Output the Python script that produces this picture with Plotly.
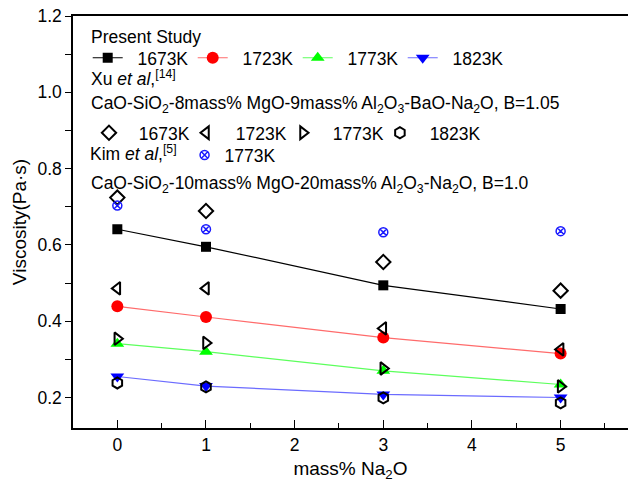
import plotly.graph_objects as go

x_na2o = [0, 1, 3, 5]

present_labels = ["1673K", "1723K", "1773K", "1823K"]
present_1673 = [0.641, 0.595, 0.494, 0.432]
present_1723 = [0.439, 0.411, 0.357, 0.315]
present_1773 = [0.341, 0.320, 0.270, 0.234]
present_1823 = [0.255, 0.230, 0.208, 0.200]

xu_1673 = [0.724, 0.689, 0.555, 0.480]
xu_1723 = [0.486, 0.486, 0.381, 0.326]
xu_1773 = [0.354, 0.343, 0.276, 0.229]
xu_1823 = [0.238, 0.228, 0.199, 0.186]

kim_1773 = [0.703, 0.641, 0.633, 0.636]

x_ticks = [0, 1, 2, 3, 4, 5]
y_ticks = [0.2, 0.4, 0.6, 0.8, 1.0, 1.2]

FONT = "Liberation Sans, Arial, sans-serif"
FS = 17.5
PAD = "\u00a0\u00a0"

fig = go.Figure()

present_series = [present_1673, present_1723, present_1773, present_1823]
present_marker_colors = ["#000000", "#ff0000", "#00ff00", "#0000ff"]
present_line_colors = ["#000000", "#ff6b6b", "#5cff5c", "#6b6bff"]
present_symbols = ["square", "circle", "triangle-up", "triangle-down"]
present_sizes = [10, 12, 12, 12]

for lab, ys, mc, lc, sym, sz in zip(present_labels, present_series, present_marker_colors,
                                    present_line_colors, present_symbols, present_sizes):
    fig.add_trace(go.Scatter(
        x=x_na2o, y=ys, mode="lines+markers", name=PAD + lab, legend="legend",
        line=dict(color=lc, width=1.2),
        marker=dict(symbol=sym, size=sz, color=mc, line=dict(width=0)),
    ))

xu_series = [xu_1673, xu_1723, xu_1773, xu_1823]
xu_symbols = ["diamond-open", "triangle-left-open", "triangle-right-open", "hexagon-open"]
xu_legends = ["legend2", "legend4", "legend5", "legend6"]
for lab, ys, sym, lg in zip(present_labels, xu_series, xu_symbols, xu_legends):
    fig.add_trace(go.Scatter(
        x=x_na2o, y=ys, mode="markers", name=PAD + lab, legend=lg,
        marker=dict(symbol=sym, size=11, color="#000000", line=dict(width=2, color="#000000")),
    ))

fig.add_trace(go.Scatter(
    x=x_na2o, y=kim_1773, mode="markers", name="1773K", legend="legend3",
    marker=dict(symbol="circle-x-open", size=9, color="#1a1aff", line=dict(width=1.5, color="#1a1aff")),
))

legend_common = dict(
    bgcolor="rgba(0,0,0,0)", borderwidth=0, orientation="h",
    font=dict(family=FONT, size=FS, color="#000000"),
    xanchor="left", yanchor="top",
    itemclick=False, itemdoubleclick=False,
)

def ann(text, x, y):
    return dict(text=text, xref="paper", yref="paper", x=x, y=y, xanchor="left", yanchor="middle",
                showarrow=False, font=dict(family=FONT, size=FS, color="#000000"))

fig.update_layout(
    width=628, height=485,
    margin=dict(l=73, r=0, t=16, b=57),
    paper_bgcolor="white", plot_bgcolor="white",
    font=dict(family=FONT, size=FS, color="#000000"),
    legend=dict(**legend_common, x=0.0265, y=0.942, entrywidth=60, entrywidthmode="pixels"),
    legend2=dict(**legend_common, x=0.0288, y=0.760),
    legend4=dict(**legend_common, x=0.2036, y=0.760),
    legend5=dict(**legend_common, x=0.3784, y=0.760),
    legend6=dict(**legend_common, x=0.553, y=0.760),
    legend3=dict(**legend_common, x=0.027, y=0.706,
                 title=dict(text="Kim <i>et al</i>,<sup>[5]</sup>", side="left",
                            font=dict(family=FONT, size=FS))),
    showlegend=True,
    annotations=[
        ann("Present Study", 0.029, 0.949),
        ann("Xu <i>et al</i>,<sup>[14]</sup>", 0.029, 0.8495),
        ann("CaO-SiO<sub>2</sub>-8mass% MgO-9mass% Al<sub>2</sub>O<sub>3</sub>-BaO-Na<sub>2</sub>O, B=1.05",
            0.029, 0.784),
        ann("CaO-SiO<sub>2</sub>-10mass% MgO-20mass% Al<sub>2</sub>O<sub>3</sub>-Na<sub>2</sub>O, B=1.0",
            0.029, 0.590),
    ],
)

fig.update_xaxes(
    range=[-0.5, 5.76], tickvals=x_ticks, ticktext=[str(v) for v in x_ticks],
    ticks="inside", ticklen=8, tickwidth=1.3, tickcolor="#000000",
    minor=dict(ticks="inside", dtick=0.5, tick0=0, ticklen=5, tickwidth=1.3, tickcolor="#000000"),
    showline=True, linecolor="#000000", linewidth=1.5, mirror=True,
    showgrid=False, zeroline=False,
    tickfont=dict(family=FONT, size=FS),
    title=dict(text="mass% Na<sub>2</sub>O", font=dict(family=FONT, size=19), standoff=8),
)
fig.update_yaxes(
    range=[0.12, 1.2], tickvals=y_ticks, ticktext=["%.1f" % v for v in y_ticks],
    ticks="outside", ticklen=6, tickwidth=1.3, tickcolor="#000000",
    minor=dict(ticks="outside", dtick=0.1, tick0=0.1, ticklen=6, tickwidth=1.3, tickcolor="#000000"),
    showline=True, linecolor="#000000", linewidth=1.5, mirror=False,
    showgrid=False, zeroline=False,
    tickfont=dict(family=FONT, size=FS),
    title=dict(text="Viscosity(Pa·s)", font=dict(family=FONT, size=19), standoff=6),
)

fig.write_html("out.html")
